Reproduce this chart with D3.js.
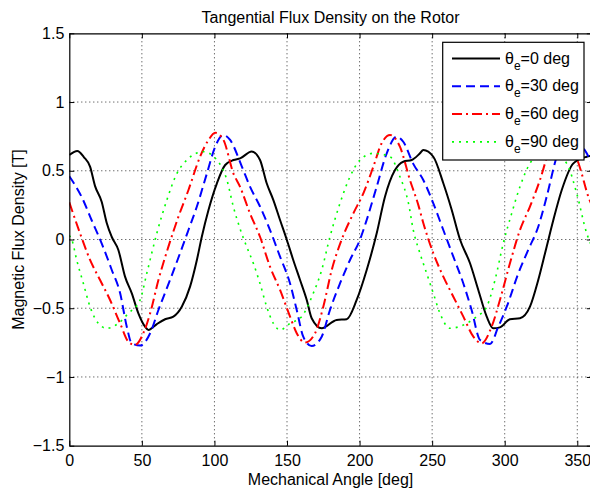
<!DOCTYPE html>
<html><head><meta charset="utf-8">
<script src="https://cdn.jsdelivr.net/npm/d3@7"></script>
<style>
body{margin:0;background:#fff;}
svg{display:block;}
text{font-family:"Liberation Sans",Arial,Helvetica,sans-serif;fill:#000;}
</style>
</head><body>
<svg id="c" width="590" height="490"></svg>
<script>
// ---- data (angle [deg], flux density [T]) ----
const xTicks = [0, 50, 100, 150, 200, 250, 300, 350];
const yTicks = [-1.5, -1, -0.5, 0, 0.5, 1, 1.5];
const yTickLabels = ["\u22121.5", "\u22121", "\u22120.5", "0", "0.5", "1", "1.5"];
const legendLabels = ["0", "30", "60", "90"];

const theta0 = [[0,0.615],[5.5,0.644],[10,0.6],[14.3,0.53],[17.7,0.39],[22.3,0.275],[25.8,0.12],[29.2,0.02],[33.8,-0.076],[38.4,-0.27],[43,-0.39],[47.6,-0.537],[52.2,-0.634],[54.5,-0.658],[60.3,-0.615],[66,-0.58],[71.7,-0.561],[77.5,-0.489],[83.2,-0.343],[87.9,-0.149],[91.3,0.02],[95.9,0.215],[101.7,0.409],[107.4,0.542],[113.1,0.578],[117.7,0.59],
  [125.7,0.64],[131.4,0.578],[136,0.409],[140.6,0.287],[145.2,0.142],[149.8,0],[154.3,-0.149],[159,-0.295],[163.6,-0.44],[167,-0.573],[173.9,-0.646],[184.2,-0.585],[191.1,-0.58],[198,-0.44],[204.9,-0.222],[211.8,0.045],[217.5,0.311],[224.4,0.505],[230.1,0.566],[235.9,0.578],[241.6,0.627],
  [243.9,0.651],[250.8,0.602],[257.7,0.409],[263.5,0.215],[269.2,0],[276.1,-0.173],[281.8,-0.367],[287.6,-0.561],[292.1,-0.646],[296.7,-0.639],[303.6,-0.58],[310.5,-0.573],[317.4,-0.489],[323.1,-0.295],[328.9,-0.052],[333.5,0.142],[339.3,0.36],[347.3,0.554],[356.5,0.602],[360,0.61]];

const theta30 = [[0,0.46],[8.5,0.31],[15.4,0.14],[22.3,-0.028],[29.2,-0.22],[35,-0.39],[39.6,-0.634],[43,-0.755],[48.8,-0.772],[55.7,-0.682],[61.4,-0.513],[69.4,-0.295],[76.3,-0.1],[82.1,0.069],[87.9,0.24],[94.8,0.48],[100.5,0.675],[106.2,0.76],[110.8,0.724],[118.9,0.53],
  [124.5,0.384],[131.4,0.24],[138.3,0.069],[145.2,-0.125],[152.1,-0.32],[156.7,-0.513],[161.2,-0.707],[167,-0.775],[173.9,-0.707],[179.6,-0.513],[186.5,-0.32],[193.4,-0.149],[200.3,0],[204.9,0.142],[211.8,0.384],[218.7,0.627],[225.6,0.748],[230.1,0.711],[237,0.55],
  [243.9,0.433],[250.8,0.263],[257.7,0.069],[264.6,-0.125],[271.5,-0.32],[277.2,-0.513],[283,-0.731],[289.9,-0.76],[295.6,-0.634],[301.4,-0.489],[309.4,-0.246],[316.2,-0.076],[323.1,0.093],[328.9,0.311],[335.8,0.602],[341,0.74],[346,0.76],[350,0.72],[356.5,0.627],[360,0.55]];

const theta60 = [[0,0.27],[7.4,0.045],[14.3,-0.149],[21.2,-0.295],[28.1,-0.44],[35,-0.61],[40.7,-0.743],[45.3,-0.767],[51,-0.682],[55.7,-0.537],[61.4,-0.295],[68.3,-0.052],[75.2,0.166],[82.1,0.36],[90.1,0.602],[95.9,0.724],[100.5,0.777],[106.2,0.724],[113.1,0.48],[117.6,0.384],
  [124.5,0.19],[131.4,0.02],[138.3,-0.198],[145.2,-0.367],[152.1,-0.561],[156.7,-0.682],[162.4,-0.75],[169.3,-0.682],[175,-0.489],[180.8,-0.222],[187.7,0],[195.7,0.19],[202.6,0.336],[209.5,0.53],[215.2,0.7],[221,0.76],[227.8,0.675],[234.7,0.433],[240.5,0.25],
  [243.9,0.12],[250.8,-0.1],[257.7,-0.27],[264.6,-0.416],[271.5,-0.561],[278.4,-0.707],[284.1,-0.755],[291,-0.634],[296.7,-0.44],[303.6,-0.173],[310.5,0.069],[317.4,0.24],[324.3,0.433],[330,0.627],[335,0.74],[340,0.77],[345,0.72],[351.9,0.52],[358,0.3],[360,0.25]];

const theta90 = [[0,0.03],[1.7,0],[5.1,-0.149],[9.7,-0.32],[14.3,-0.489],[20,-0.61],[25.8,-0.646],[33.8,-0.61],[40.7,-0.537],[48.8,-0.44],[53.4,-0.246],[60.3,0.045],[67.2,0.287],[74.1,0.48],[81,0.578],[92.4,0.639],[101.7,0.578],[108.6,0.433],[113,0.24],[117.6,0.08],
  [122.2,-0.052],[126.8,-0.173],[131.4,-0.32],[136,-0.489],[140.6,-0.61],[145.2,-0.658],[152.1,-0.61],[160.1,-0.561],[168.1,-0.391],[173.9,-0.222],[179.6,0.02],[186.5,0.263],[193.4,0.457],[200.3,0.578],[209.5,0.627],[221,0.602],[227.8,0.457],[233.7,0.263],[237,0.069],
  [241.6,-0.1],[246.2,-0.246],[250.8,-0.391],[255.4,-0.537],[262.3,-0.646],[271.5,-0.622],[280.7,-0.561],[287.6,-0.489],[293.3,-0.295],[299,-0.028],[304.8,0.19],[310.5,0.384],[317.4,0.554],[325,0.62],[333,0.63],[342.7,0.554],[349.6,0.336],[356.5,0.045],[360,-0.05]];

const seriesData = [theta0, theta30, theta60, theta90];
const seriesColors = ["#000000", "#0000ff", "#ff0000", "#00ff00"];
const seriesDash = [null, "9,5", "10,4,2,4", "2,5"];

// ---- layout ----
const L = 69.3, R = 591.8, T = 33.3, B = 445.7;
const svg = d3.select("#c");
const x = d3.scaleLinear().domain([0, 360]).range([L, R]);
const y = d3.scaleLinear().domain([-1.5, 1.5]).range([B, T]);

svg.append("rect").attr("width", 590).attr("height", 490).attr("fill", "#fff");
svg.append("defs").append("clipPath").attr("id", "clip")
  .append("rect").attr("x", L).attr("y", T).attr("width", R - L).attr("height", B - T);

// grid
const grid = svg.append("g").attr("stroke", "#333").attr("stroke-width", 1).attr("stroke-dasharray", "1,3");
grid.selectAll(".gx").data(xTicks.filter(d => d > 0)).enter().append("line")
  .attr("x1", d => x(d)).attr("x2", d => x(d)).attr("y1", T).attr("y2", B);
grid.selectAll(".gy").data(yTicks.filter(d => d > -1.5 && d < 1.5)).enter().append("line")
  .attr("x1", L).attr("x2", R).attr("y1", d => y(d)).attr("y2", d => y(d));

// lines
const line = d3.line().x(d => x(d[0])).y(d => y(d[1])).curve(d3.curveMonotoneX);
const lines = svg.append("g").attr("clip-path", "url(#clip)");
seriesData.forEach((s, i) => {
  lines.append("path").attr("d", line(s)).attr("fill", "none")
    .attr("stroke", seriesColors[i]).attr("stroke-width", i === 3 ? 1.6 : 2)
    .attr("stroke-dasharray", seriesDash[i]).attr("stroke-linejoin", "round");
});

// axes
const fs = "16px";
const xAxis = svg.append("g").attr("transform", `translate(0,${B})`)
  .call(d3.axisBottom(x).tickValues(xTicks).tickSizeInner(-5).tickSizeOuter(0).tickPadding(9));
const yAxis = svg.append("g").attr("transform", `translate(${L},0)`)
  .call(d3.axisLeft(y).tickValues(yTicks).tickFormat((d, i) => yTickLabels[i]).tickSizeInner(-5).tickSizeOuter(0).tickPadding(5));
const xTop = svg.append("g").attr("transform", `translate(0,${T})`)
  .call(d3.axisTop(x).tickValues(xTicks).tickFormat("").tickSizeInner(-5).tickSizeOuter(0));
const yRight = svg.append("g").attr("transform", `translate(${R},0)`)
  .call(d3.axisRight(y).tickValues(yTicks).tickFormat("").tickSizeInner(-5).tickSizeOuter(0));
[xAxis, yAxis, xTop, yRight].forEach(g => {
  g.select(".domain").attr("stroke", "#000").attr("stroke-width", 1.2);
  g.selectAll(".tick line").attr("stroke", "#000").attr("stroke-width", 1);
  g.selectAll("text").attr("font-size", fs).attr("font-family", null);
});

// titles
svg.append("text").attr("x", (L + R) / 2).attr("y", 23).attr("text-anchor", "middle")
  .attr("font-size", "16px").text("Tangential Flux Density on the Rotor");
svg.append("text").attr("x", (L + R) / 2).attr("y", 485).attr("text-anchor", "middle")
  .attr("font-size", "16px").text("Mechanical Angle [deg]");
svg.append("text").attr("transform", `translate(24,${(T + B) / 2}) rotate(-90)`).attr("text-anchor", "middle")
  .attr("font-size", "16px").text("Magnetic Flux Density [T]");

// legend
const lg = svg.append("g");
lg.append("rect").attr("x", 442.7).attr("y", 42.3).attr("width", 141.3).attr("height", 117.7)
  .attr("fill", "#fff").attr("stroke", "#000").attr("stroke-width", 1.2);
legendLabels.forEach((lab, i) => {
  const ry = 58.5 + i * 27.8;
  lg.append("line").attr("x1", 452).attr("x2", 500).attr("y1", ry).attr("y2", ry)
    .attr("stroke", seriesColors[i]).attr("stroke-width", i === 3 ? 1.6 : 2)
    .attr("stroke-dasharray", seriesDash[i]);
  const t = lg.append("text").attr("x", 505).attr("y", ry + 5).attr("font-size", "16px");
  t.append("tspan").text("\u03b8");
  t.append("tspan").attr("font-size", "12px").attr("dy", 6).text("e");
  t.append("tspan").attr("dy", -6).text("=" + lab + " deg");
});
</script>
</body></html>
